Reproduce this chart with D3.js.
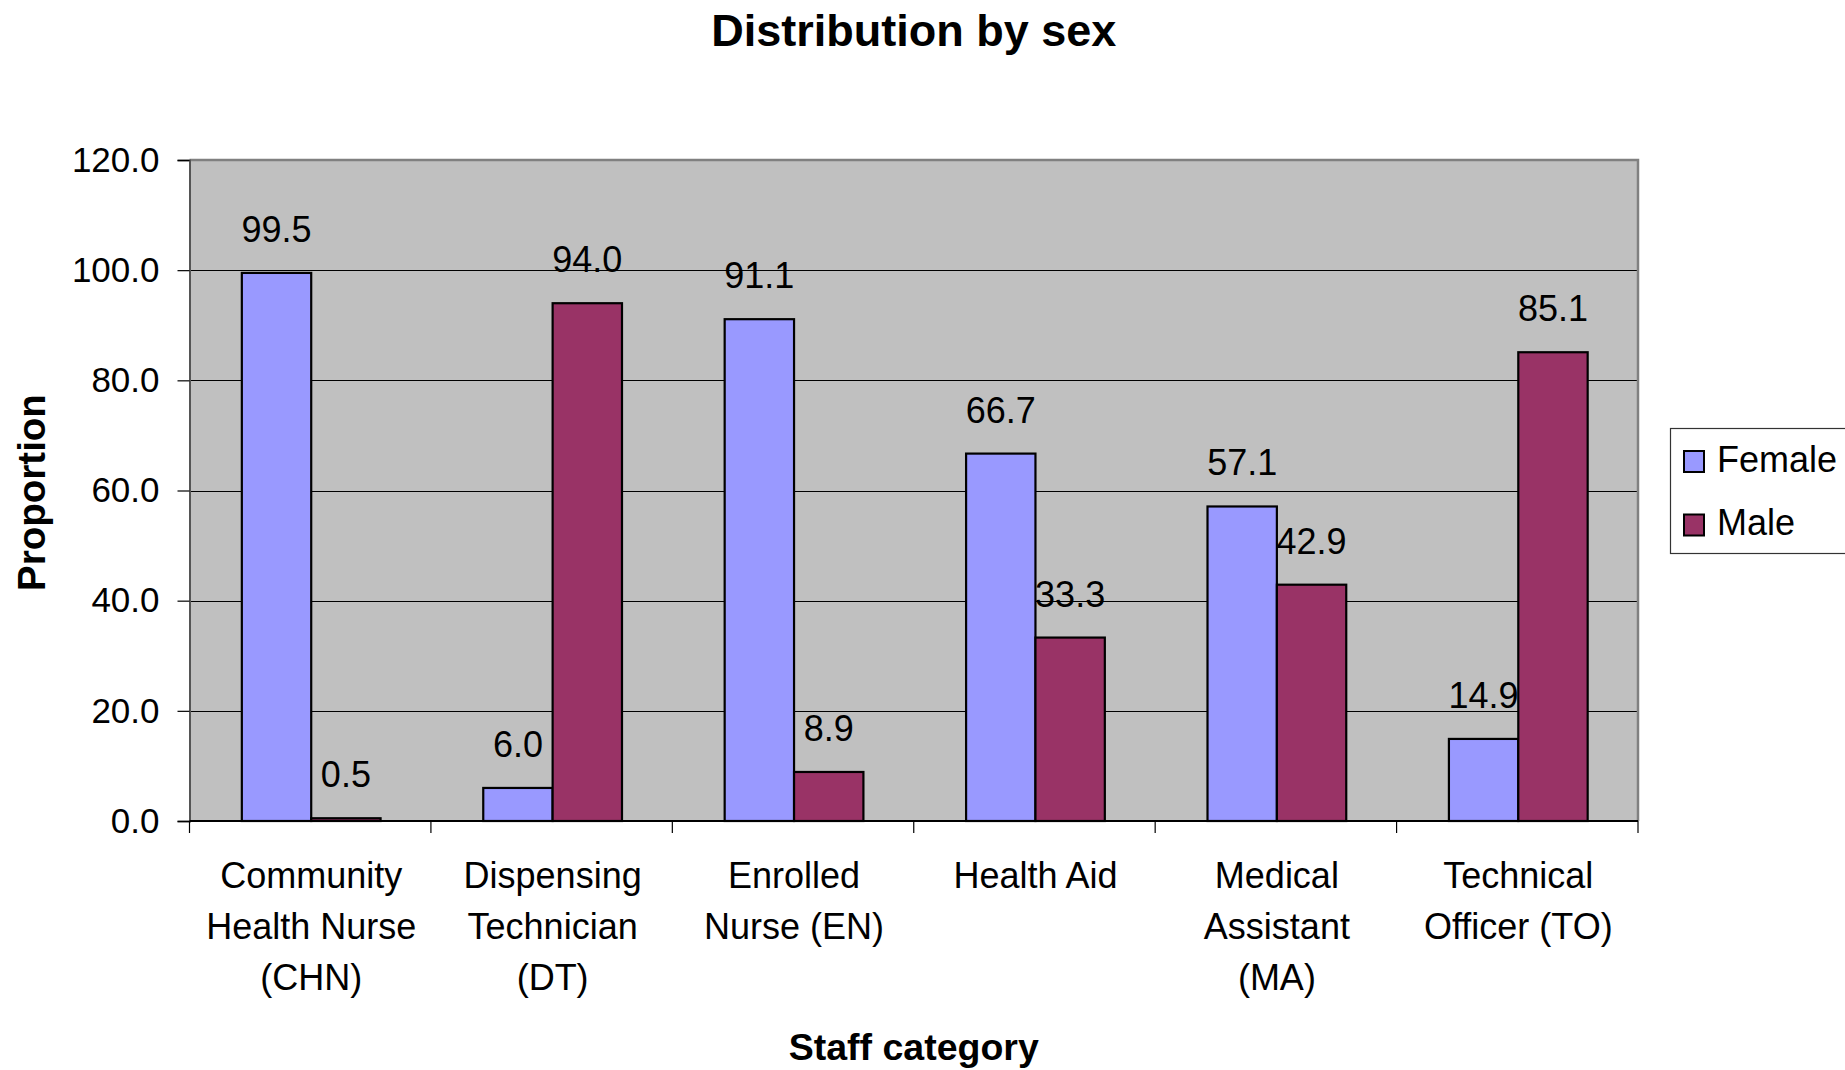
<!DOCTYPE html>
<html>
<head>
<meta charset="utf-8">
<script src="https://cdn.jsdelivr.net/npm/d3@7"></script>
<style>
  html, body { margin: 0; padding: 0; background: #fff; }
  svg { display: block; font-family: "Liberation Sans", Arial, sans-serif; }
</style>
</head>
<body>
<svg id="chart" width="1845" height="1070"></svg>
<script>
// Staff categories (line breaks mark the wrapped axis labels)
const categories = [
  "Community\nHealth Nurse\n(CHN)",
  "Dispensing\nTechnician\n(DT)",
  "Enrolled\nNurse (EN)",
  "Health Aid",
  "Medical\nAssistant\n(MA)",
  "Technical\nOfficer (TO)"
];
const seriesNames = ["Female", "Male"];
const femaleValues = [99.5, 6.0, 91.1, 66.7, 57.1, 14.9];
const maleValues   = [0.5, 94.0, 8.9, 33.3, 42.9, 85.1];
const yTicks = [0, 20, 40, 60, 80, 100, 120];

const colors = { Female: "#9999FF", Male: "#993366" };
const valuesBySeries = { Female: femaleValues, Male: maleValues };

const svg = d3.select("#chart");
const plot = { left: 189.5, right: 1638, top: 160, bottom: 821 };

const x0 = d3.scaleBand().domain(categories).range([plot.left, plot.right]).paddingInner(0).paddingOuter(0);
const x1 = d3.scaleBand().domain(seriesNames).range([0, x0.bandwidth()]).paddingInner(0).paddingOuter(0.74);
const y = d3.scaleLinear().domain([0, 120]).range([plot.bottom, plot.top]);

// Plot background
svg.append("rect")
  .attr("x", plot.left).attr("y", plot.top)
  .attr("width", plot.right - plot.left).attr("height", plot.bottom - plot.top)
  .attr("fill", "#C0C0C0");

// Horizontal gridlines
svg.append("g").selectAll("line")
  .data(yTicks.filter(t => t > 0 && t < 120))
  .join("line")
  .attr("x1", plot.left).attr("x2", plot.right)
  .attr("y1", d => Math.round(y(d)) + 0.5).attr("y2", d => Math.round(y(d)) + 0.5)
  .attr("stroke", "#000").attr("stroke-width", 1);

// Plot border (top and right)
svg.append("path")
  .attr("d", `M${plot.left},${plot.top}H${plot.right}V${plot.bottom}`)
  .attr("fill", "none").attr("stroke", "#808080").attr("stroke-width", 2.5);

// Bars
const rows = categories.map((c, i) => ({ cat: c, vals: seriesNames.map(s => ({ s, v: valuesBySeries[s][i] })) }));
const groups = svg.append("g").selectAll("g")
  .data(rows).join("g")
  .attr("transform", d => `translate(${x0(d.cat) + 1},0)`);

groups.selectAll("rect")
  .data(d => d.vals).join("rect")
  .attr("x", d => x1(d.s))
  .attr("y", d => y(d.v))
  .attr("width", x1.bandwidth())
  .attr("height", d => y(0) - y(d.v))
  .attr("fill", d => colors[d.s])
  .attr("stroke", "#000").attr("stroke-width", 2.2);

// Value labels
groups.selectAll("text")
  .data(d => d.vals).join("text")
  .attr("x", d => x1(d.s) + x1.bandwidth() / 2)
  .attr("y", d => y(d.v) - 31)
  .attr("text-anchor", "middle")
  .attr("font-size", 36)
  .attr("fill", "#000")
  .text(d => d.v.toFixed(1));

// Y axis
const yAxis = svg.append("g")
  .attr("transform", `translate(${plot.left},0)`)
  .call(d3.axisLeft(y).tickValues(yTicks).tickFormat(d3.format(".1f")).tickSize(12).tickPadding(18));
yAxis.select(".domain").attr("stroke", "#555").attr("stroke-width", 2);
yAxis.selectAll(".tick line").attr("stroke", "#000").attr("stroke-width", 1.2);
yAxis.selectAll(".tick text").attr("font-size", 35).attr("fill", "#000")
  .attr("font-family", "'Liberation Sans', Arial, sans-serif");

// X axis
const xAxis = svg.append("g")
  .attr("transform", `translate(0,${plot.bottom})`);
xAxis.append("line")
  .attr("x1", plot.left).attr("x2", plot.right)
  .attr("y1", 0).attr("y2", 0)
  .attr("stroke", "#000").attr("stroke-width", 2);
const boundaries = categories.map(c => x0(c)).concat([plot.right]);
xAxis.selectAll("line.tick")
  .data(boundaries).join("line")
  .attr("class", "tick")
  .attr("x1", d => d).attr("x2", d => d)
  .attr("y1", 0).attr("y2", 12)
  .attr("stroke", "#000").attr("stroke-width", 1.2);

const catLabels = xAxis.selectAll("text.cat")
  .data(categories).join("text")
  .attr("class", "cat")
  .attr("text-anchor", "middle")
  .attr("font-size", 36)
  .attr("fill", "#000")
  .attr("transform", d => `translate(${x0(d) + x0.bandwidth() / 2 + 1},0)`);
catLabels.selectAll("tspan")
  .data(d => d.split("\n")).join("tspan")
  .attr("x", 0)
  .attr("y", (d, i) => 67 + i * 50.8)
  .text(d => d);

// Title
svg.append("text")
  .attr("x", (plot.left + plot.right) / 2).attr("y", 46)
  .attr("text-anchor", "middle")
  .attr("font-size", 45).attr("font-weight", "bold")
  .text("Distribution by sex");

// Axis titles
svg.append("text")
  .attr("x", (plot.left + plot.right) / 2).attr("y", 1060)
  .attr("text-anchor", "middle")
  .attr("font-size", 37.5).attr("font-weight", "bold")
  .text("Staff category");

svg.append("text")
  .attr("transform", `translate(45,${(plot.top + plot.bottom) / 2 + 2}) rotate(-90)`)
  .attr("text-anchor", "middle")
  .attr("font-size", 38.5).attr("font-weight", "bold")
  .text("Proportion");

// Legend
const legend = svg.append("g");
legend.append("rect")
  .attr("x", 1670.5).attr("y", 428.5)
  .attr("width", 200).attr("height", 125)
  .attr("fill", "#fff").attr("stroke", "#333").attr("stroke-width", 1.2);
const items = legend.selectAll("g.item")
  .data(seriesNames).join("g")
  .attr("class", "item")
  .attr("transform", (d, i) => `translate(1684,${451 + i * 63.5})`);
items.append("rect")
  .attr("width", 20).attr("height", 21)
  .attr("fill", d => colors[d])
  .attr("stroke", "#000").attr("stroke-width", 2);
items.append("text")
  .attr("x", 33).attr("y", 20.5)
  .attr("font-size", 36)
  .text(d => d);
</script>
</body>
</html>
